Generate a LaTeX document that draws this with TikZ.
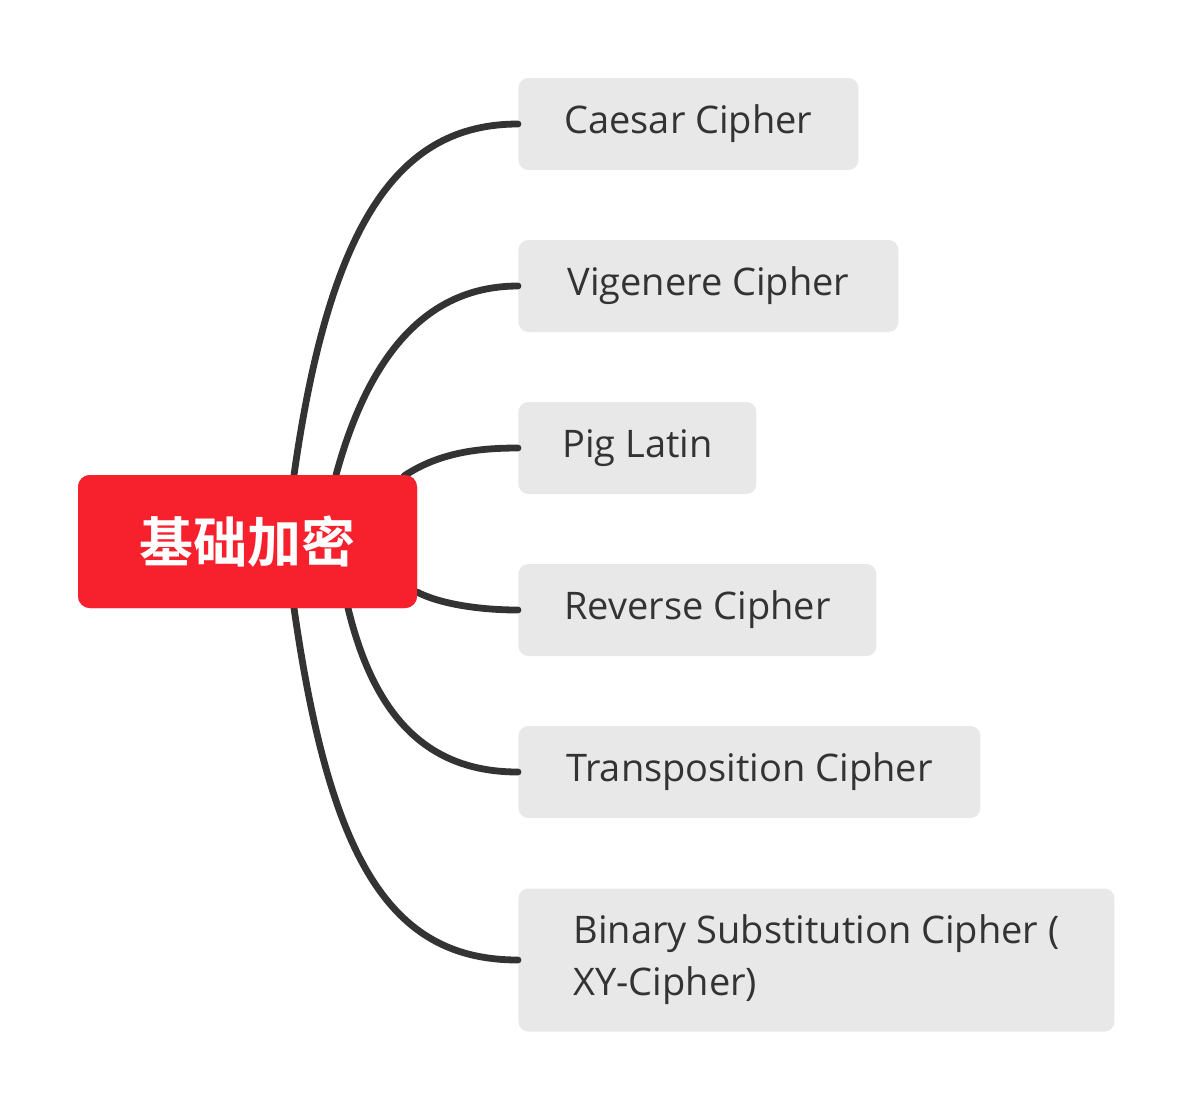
\documentclass[tikz,border=0pt]{standalone}
\usepackage{fontspec}
\setmainfont{Open Sans}
\newfontfamily\cjkbold{Noto Sans CJK SC Bold}
\usetikzlibrary{positioning}
\definecolor{rootred}{HTML}{F7212E}
\definecolor{leafgray}{HTML}{E8E8E8}
\definecolor{linegray}{HTML}{333333}
\tikzset{
  leaf/.style={rectangle, rounded corners=5pt, fill=leafgray, text=linegray, anchor=west,
    inner xsep=18pt, inner ysep=0pt, minimum height=46pt, align=left,
    font=\fontsize{19}{26}\selectfont},
  branch/.style={draw=linegray, line width=3.4pt, line cap=round}
}
\begin{document}
\begin{tikzpicture}[x=0.5pt,y=-0.5pt]
  \useasboundingbox (0,0) rectangle (1192,1110);
  \node[rectangle, rounded corners=6pt, fill=rootred, text=white, minimum width=169.5pt, minimum height=66.5pt,
    font=\cjkbold\fontsize{27}{30}\selectfont](root) at (247.5,541.5){基础加密};
  \node[leaf, minimum width=170pt](caesar) at (518,124){Caesar Cipher};
  \node[leaf, minimum width=190pt](vigenere) at (518,286){Vigenere Cipher};
  \node[leaf, minimum width=119pt](pig) at (518,448){Pig Latin};
  \node[leaf, minimum width=179pt](reverse) at (518,610){Reverse Cipher};
  \node[leaf, minimum width=231pt](trans) at (518,772){Transposition Cipher};
  \node[leaf, minimum width=298pt, minimum height=71.5pt](binary) at (518,960){Binary Substitution Cipher (\\XY-Cipher)};
  \coordinate (s1) at (294,475);
  \coordinate (s2) at (336,475);
  \coordinate (s3) at (404,476);
  \coordinate (s4) at (417,592);
  \coordinate (s5) at (348,608);
  \coordinate (s6) at (294,608);
  \begin{scope}[on background layer/.style={}]
  \draw[branch] (s1) .. controls (330,220) and (400,124) .. (caesar.west);
  \draw[branch] (s2) .. controls (370,350) and (430,286) .. (vigenere.west);
  \draw[branch] (s3) .. controls (440,452) and (480,448) .. (pig.west);
  \draw[branch] (s4) .. controls (440,604) and (480,610) .. (reverse.west);
  \draw[branch] (s5) .. controls (375,720) and (430,772) .. (trans.west);
  \draw[branch] (s6) .. controls (330,860) and (390,960) .. (binary.west);
  \end{scope}
  \node[rectangle, rounded corners=6pt, fill=rootred, text=white, minimum width=169.5pt, minimum height=66.5pt,
    font=\cjkbold\fontsize{27}{30}\selectfont] at (root.center){基础加密};
\end{tikzpicture}
\end{document}
